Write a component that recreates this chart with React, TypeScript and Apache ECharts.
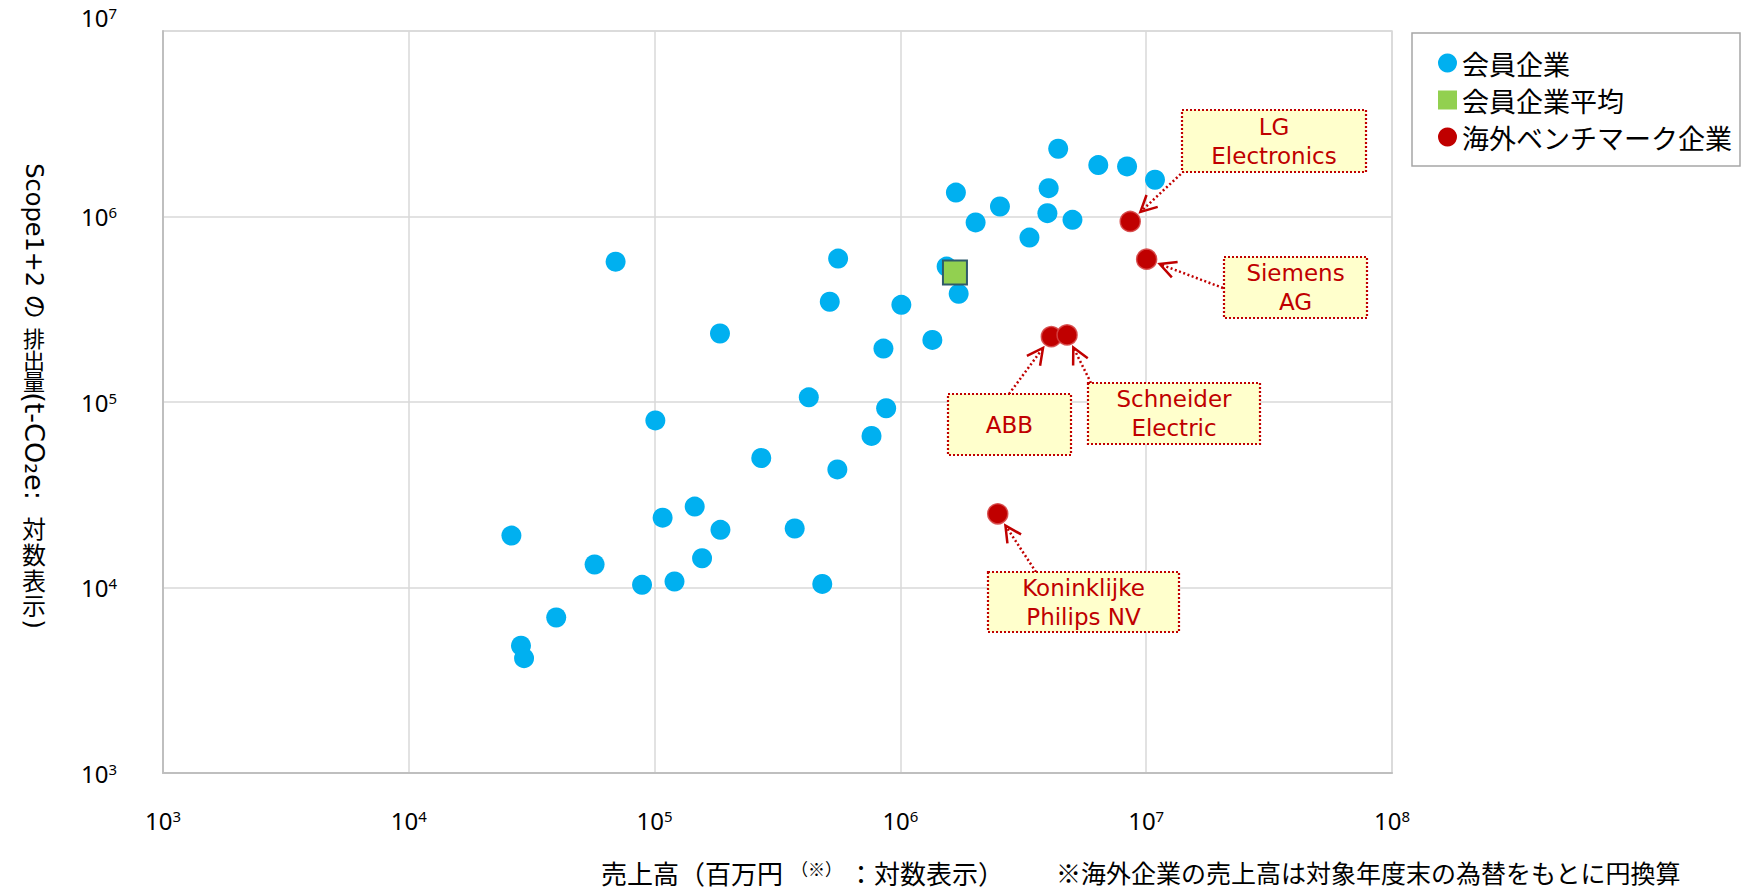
import React, { useEffect, useRef } from "react";
import * as echarts from "echarts";

// ---- data ----
const seriesNames = ["会員企業", "会員企業平均", "海外ベンチマーク企業"];

// 会員企業: sales (million yen) and Scope1+2 emissions (t-CO2e)
const memberSales = [
  69400, 558000, 516000, 1009000, 184500, 853000, 1349000, 424000, 100700, 875000,
  763000, 1682000, 2023000, 2541000, 4385000, 4010000, 3963000, 5012000, 3350000, 6383000,
  8360000, 10860000, 1542000, 1726000, 271600, 554000, 107800, 145600, 185300, 371500,
  156000, 57000, 88900, 120500, 481000, 26150, 39790, 28600, 29440,
];
const memberEmissions = [
  571000, 593000, 347000, 334000, 234000, 194000, 216000, 106000, 79600, 92500,
  65600, 1346000, 929000, 1132000, 2318000, 1422000, 1042000, 959000, 770000, 1893000,
  1862000, 1578000, 537000, 383000, 49900, 43300, 23800, 27300, 20450, 20800,
  14380, 13300, 10340, 10770, 10460, 19050, 6890, 4857, 4161,
];

// 会員企業平均
const averageSales = [1667000];
const averageEmissions = [499000];

// 海外ベンチマーク企業
const benchmarkNames = ["LG\nElectronics", "Siemens\nAG", "ABB", "Schneider\nElectric", "Koninklijke\nPhilips NV"];
const benchmarkSales = [8610000, 10040000, 4112000, 4765000, 2489000];
const benchmarkEmissions = [940000, 589000, 225000, 230000, 24950];

// axis ranges (log10 decades)
const xMin = 1e3;
const xMax = 1e8;
const yMin = 1e3;
const yMax = 1e7;

// texts
const xTitleMain1 = "売上高（百万円";
const xTitleSup = "（※）";
const xTitleMain2 = "：対数表示）";
const xNote = "※海外企業の売上高は対象年度末の為替をもとに円換算";

// ---- layout (pixels) ----
// callout boxes for the benchmark companies: [x, y, w, h], arrow anchor on box
const calloutBoxes = [
  [1182, 110, 184, 62],
  [1224, 257, 143, 61],
  [948, 394, 123, 61],
  [1088, 383, 172, 61],
  [988, 572, 191, 60],
];
const calloutAnchors = [
  [1184, 171],
  [1223, 288],
  [1009, 394],
  [1091, 383],
  [1036, 572],
];

const RED = "#C00000";
const CJK = "'Noto Sans CJK JP', 'Noto Sans', sans-serif";
const LATIN = "'Noto Sans', 'Noto Sans CJK JP', sans-serif";
const VERD = "'DejaVu Sans', 'Noto Sans CJK JP', sans-serif";

export default function App() {
  const ref = useRef<HTMLDivElement>(null);

  useEffect(() => {
    if (!ref.current) return;
    const chart = echarts.init(ref.current, null, { renderer: "svg" });

    const expOf = (v: number) => Math.round(Math.log10(v));

    const option: any = {
      animation: false,
      backgroundColor: "#ffffff",
      grid: {
        left: 163,
        top: 31,
        right: 353,
        bottom: 115,
        show: true,
        borderColor: "#D9D9D9",
        borderWidth: 1.5,
        backgroundColor: "transparent",
        containLabel: false,
        outerBoundsMode: "none",
      },
      legend: {
        orient: "vertical",
        left: 1412,
        top: 33,
        padding: [15, 10, 14, 26],
        itemGap: 7,
        itemWidth: 19,
        itemHeight: 19,
        borderWidth: 0,
        selectedMode: false,
        textStyle: { fontSize: 27, lineHeight: 30, color: "#000", fontFamily: CJK },
        data: [
          { name: seriesNames[0], icon: "circle" },
          { name: seriesNames[1], icon: "rect", itemStyle: { borderWidth: 0 } },
          { name: seriesNames[2], icon: "circle", itemStyle: { borderWidth: 0 } },
        ],
      },
      xAxis: {
        type: "log",
        logBase: 10,
        min: xMin,
        max: xMax,
        axisLine: { show: true, onZero: false, lineStyle: { color: "#BFBFBF", width: 2 } },
        axisTick: { show: false },
        minorTick: { show: false },
        splitLine: { show: true, lineStyle: { color: "#D9D9D9", width: 1.5 } },
        axisLabel: {
          margin: 35,
          color: "#000",
          formatter: (v: number) => `{b|10}{s|${expOf(v)}}`,
          rich: {
            b: { fontSize: 24, fontFamily: LATIN, color: "#000", verticalAlign: "middle" },
            s: { fontSize: 15, fontFamily: LATIN, color: "#000", verticalAlign: "middle", padding: [0, 0, 9, 0] },
          },
        },
      },
      yAxis: {
        type: "log",
        logBase: 10,
        min: yMin,
        max: yMax,
        axisLine: { show: true, onZero: false, lineStyle: { color: "#BFBFBF", width: 2 } },
        axisTick: { show: false },
        minorTick: { show: false },
        splitLine: { show: true, lineStyle: { color: "#D9D9D9", width: 1.5 } },
        axisLabel: {
          margin: 46,
          color: "#000",
          formatter: (v: number) => {
            const e = expOf(v);
            return e === 7 ? `{tb|10}{ts|${e}}` : `{b|10}{s|${e}}`;
          },
          rich: {
            b: { fontSize: 24, fontFamily: LATIN, color: "#000", verticalAlign: "middle" },
            s: { fontSize: 15, fontFamily: LATIN, color: "#000", verticalAlign: "middle", padding: [0, 0, 9, 0] },
            tb: { fontSize: 24, fontFamily: LATIN, color: "#000", verticalAlign: "middle", padding: [0, 0, 28, 0] },
            ts: { fontSize: 15, fontFamily: LATIN, color: "#000", verticalAlign: "middle", padding: [0, 0, 37, 0] },
          },
        },
      },
      series: [
        {
          name: seriesNames[0],
          type: "scatter",
          symbol: "circle",
          symbolSize: 20,
          z: 2,
          itemStyle: { color: "#00B0F0", opacity: 1 },
          data: memberSales.map((x, i) => [x, memberEmissions[i]]),
        },
        {
          name: seriesNames[2],
          type: "scatter",
          symbol: "circle",
          symbolSize: 20,
          z: 3,
          itemStyle: { color: RED, borderColor: "rgba(214,70,70,0.9)", borderWidth: 1.5, opacity: 1 },
          data: benchmarkSales.map((x, i) => ({ name: benchmarkNames[i], value: [x, benchmarkEmissions[i]] })),
        },
        {
          name: seriesNames[1],
          type: "scatter",
          symbol: "rect",
          symbolSize: 24,
          z: 4,
          itemStyle: { color: "#92D050", borderColor: "#2F5A6A", borderWidth: 2, opacity: 1 },
          data: averageSales.map((x, i) => [x, averageEmissions[i]]),
        },
      ],
    };

    chart.setOption(option);

    const graphics: any[] = [];

    // legend frame
    graphics.push({
      type: "rect",
      z: -1,
      shape: { x: 1412, y: 33, width: 328, height: 133 },
      style: { fill: "#ffffff", stroke: "#A6A6A6", lineWidth: 1.5 },
    });

    // x axis title and note
    graphics.push({
      type: "text",
      x: 601,
      y: 872,
      z: 10,
      style: {
        text: `{m|${xTitleMain1}}{s|${xTitleSup}}{m|${xTitleMain2}}`,
        align: "left",
        verticalAlign: "middle",
        rich: {
          m: { fontSize: 26, fontFamily: CJK, fill: "#000", verticalAlign: "middle" },
          s: { fontSize: 17, fontFamily: CJK, fill: "#000", verticalAlign: "middle", padding: [0, 6, 8, 8] },
        },
      },
    });
    graphics.push({
      type: "text",
      x: 1056,
      y: 872,
      z: 10,
      style: { text: xNote, fontSize: 25, fontFamily: CJK, fill: "#000", align: "left", verticalAlign: "middle" },
    });

    // y axis title (vertical writing: latin rotated, kanji upright)
    const yTitleX = 34;
    const rotated: [string, number, number][] = [
      ["Scope1+2 の", 241, 24],
      ["(t-CO₂e:", 446, 27],
      [")", 624, 25],
    ];
    rotated.forEach(([t, cy, fs]) => {
      graphics.push({
        type: "text",
        x: yTitleX,
        y: cy,
        rotation: -Math.PI / 2,
        z: 10,
        style: { text: t, fontSize: fs, fontFamily: VERD, fill: "#000", align: "center", verticalAlign: "middle" },
      });
    });
    const upright: [string, number, number][] = [
      ["排", 337, 22], ["出", 359, 22], ["量", 380, 22],
      ["対", 527, 24], ["数", 553, 24], ["表", 579, 24], ["示", 604, 24],
    ];
    upright.forEach(([t, cy, fs]) => {
      graphics.push({
        type: "text",
        x: yTitleX,
        y: cy,
        z: 10,
        style: { text: t, fontSize: fs, fontFamily: CJK, fill: "#000", align: "center", verticalAlign: "middle" },
      });
    });

    // callouts with dotted arrows pointing at benchmark points
    const rot = (ux: number, uy: number, a: number) => [
      ux * Math.cos(a) - uy * Math.sin(a),
      ux * Math.sin(a) + uy * Math.cos(a),
    ];
    benchmarkSales.forEach((sx, i) => {
      const p = chart.convertToPixel({ xAxisIndex: 0, yAxisIndex: 0 }, [sx, benchmarkEmissions[i]]) as number[];
      const [ax, ay] = calloutAnchors[i];
      const dx = ax - p[0];
      const dy = ay - p[1];
      const len = Math.sqrt(dx * dx + dy * dy);
      const ux = dx / len;
      const uy = dy / len;
      const tip = [p[0] + ux * 14, p[1] + uy * 14];
      const a1 = rot(ux, uy, (27 * Math.PI) / 180);
      const a2 = rot(ux, uy, (-27 * Math.PI) / 180);
      const [bx, by, bw, bh] = calloutBoxes[i];

      graphics.push({
        type: "line",
        z: 11,
        shape: { x1: ax, y1: ay, x2: tip[0] + ux * 2, y2: tip[1] + uy * 2 },
        style: { stroke: RED, lineWidth: 2.5, lineDash: [2, 2.5], fill: null },
      });
      graphics.push({
        type: "polyline",
        z: 11,
        shape: {
          points: [
            [tip[0] + a1[0] * 18, tip[1] + a1[1] * 18],
            [tip[0], tip[1]],
            [tip[0] + a2[0] * 18, tip[1] + a2[1] * 18],
          ],
        },
        style: { stroke: RED, lineWidth: 2.5, fill: null },
      });
      graphics.push({
        type: "rect",
        z: 12,
        shape: { x: bx, y: by, width: bw, height: bh },
        style: { fill: "#FFFFCC", stroke: RED, lineWidth: 2.2, lineDash: [2, 2] },
      });
      graphics.push({
        type: "text",
        z: 13,
        x: bx + bw / 2,
        y: by + bh / 2,
        style: {
          text: benchmarkNames[i],
          fontSize: 23,
          lineHeight: 29,
          fontFamily: VERD,
          fill: RED,
          align: "center",
          verticalAlign: "middle",
        },
      });
    });

    chart.setOption({ graphic: graphics });

    return () => {
      chart.dispose();
    };
  }, []);

  return (
    <div
      ref={ref}
      style={{ position: "fixed", left: 0, top: 0, width: 1745, height: 888, background: "#fff" }}
    />
  );
}
